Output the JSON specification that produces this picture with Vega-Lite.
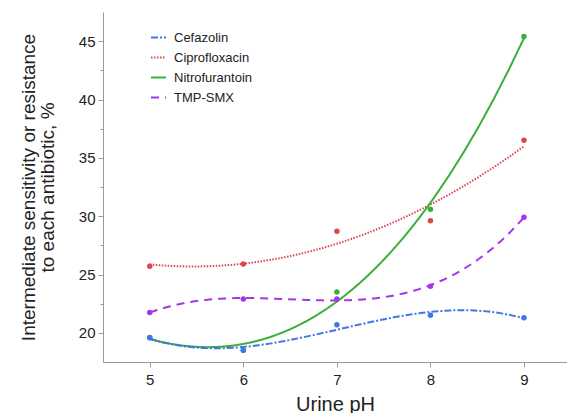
{
  "$schema": "https://vega.github.io/schema/vega-lite/v6.json",
  "width": 464,
  "height": 350,
  "autosize": {"type": "none"},
  "padding": {"left": 103, "top": 12, "right": 0, "bottom": 51},
  "background": "white",
  "config": {
    "view": {"stroke": null},
    "font": "Liberation Sans",
    "axis": {"grid": false, "domainColor": "#9a9a9a", "tickColor": "#9a9a9a", "labelColor": "#222222", "titleColor": "#222222", "titleFontWeight": "normal", "labelFontSize": 15, "tickSize": 5}
  },
  "data": {
    "values": [
      {"drug": "Nitrofurantoin", "pH": 5, "value": 19.6},
      {"drug": "Nitrofurantoin", "pH": 6, "value": 18.5},
      {"drug": "Nitrofurantoin", "pH": 7, "value": 23.5},
      {"drug": "Nitrofurantoin", "pH": 8, "value": 30.6},
      {"drug": "Nitrofurantoin", "pH": 9, "value": 45.4},
      {"drug": "Ciprofloxacin", "pH": 5, "value": 25.7},
      {"drug": "Ciprofloxacin", "pH": 6, "value": 25.9},
      {"drug": "Ciprofloxacin", "pH": 7, "value": 28.7},
      {"drug": "Ciprofloxacin", "pH": 8, "value": 29.6},
      {"drug": "Ciprofloxacin", "pH": 9, "value": 36.5},
      {"drug": "TMP-SMX", "pH": 5, "value": 21.75},
      {"drug": "TMP-SMX", "pH": 6, "value": 22.9},
      {"drug": "TMP-SMX", "pH": 7, "value": 22.9},
      {"drug": "TMP-SMX", "pH": 8, "value": 24.0},
      {"drug": "TMP-SMX", "pH": 9, "value": 29.9},
      {"drug": "Cefazolin", "pH": 5, "value": 19.57},
      {"drug": "Cefazolin", "pH": 6, "value": 18.5},
      {"drug": "Cefazolin", "pH": 7, "value": 20.7},
      {"drug": "Cefazolin", "pH": 8, "value": 21.5},
      {"drug": "Cefazolin", "pH": 9, "value": 21.3}
    ]
  },
  "encoding": {
    "x": {
      "field": "pH", "type": "quantitative",
      "scale": {"domain": [4.5, 9.46], "nice": false, "zero": false},
      "axis": {"values": [5, 6, 7, 8, 9], "title": "Urine pH", "titleFontSize": 20, "titlePadding": 7, "labelPadding": 5}
    },
    "y": {
      "field": "value", "type": "quantitative",
      "scale": {"domain": [17.5, 47.5], "nice": false, "zero": false},
      "axis": {
        "values": [20, 22.5, 25, 27.5, 30, 32.5, 35, 37.5, 40, 42.5, 45],
        "labelExpr": "datum.value % 5 === 0 ? datum.label : ''",
        "tickSize": {"expr": "datum.value % 5 === 0 ? 5 : 3"},
        "title": ["Intermediate sensitivity or resistance", "to each antibiotic, %"],
        "titleFontSize": 19,
        "titleLineHeight": 19,
        "titlePadding": 21,
        "labelPadding": 3
      }
    },
    "color": {
      "field": "drug", "type": "nominal",
      "scale": {"domain": ["Cefazolin", "Ciprofloxacin", "Nitrofurantoin", "TMP-SMX"], "range": ["#4276e6", "#de4552", "#3aaf3a", "#a236ec"]},
      "legend": {"orient": "none", "legendX": 47, "legendY": 17, "title": null, "symbolType": "stroke", "symbolSize": 225, "symbolStrokeWidth": 2, "labelFontSize": 13, "labelColor": "#222222", "rowPadding": 4, "labelOffset": 7, "padding": 0}
    }
  },
  "layer": [
    {
      "transform": [
        {"filter": "datum.drug === 'Ciprofloxacin'"},
        {"regression": "value", "on": "pH", "groupby": ["drug"], "method": "poly", "order": 2}
      ],
      "mark": {"type": "line", "strokeWidth": 2, "strokeCap": "butt"},
      "encoding": {
        "strokeDash": {
          "field": "drug", "type": "nominal",
          "scale": {"domain": ["Cefazolin", "Ciprofloxacin", "Nitrofurantoin", "TMP-SMX"], "range": [[7, 2, 2, 2], [1.5, 1.5], [1, 0], [8, 6]]},
          "legend": {"orient": "none", "legendX": 47, "legendY": 17, "title": null, "symbolType": "stroke", "symbolSize": 225, "symbolStrokeWidth": 2, "labelFontSize": 13, "labelColor": "#222222", "rowPadding": 4, "labelOffset": 7, "padding": 0}
        }
      }
    },
    {
      "transform": [
        {"filter": "datum.drug !== 'Ciprofloxacin'"},
        {"regression": "value", "on": "pH", "groupby": ["drug"], "method": "poly", "order": 3}
      ],
      "mark": {"type": "line", "strokeWidth": 2, "strokeCap": "butt"},
      "encoding": {
        "strokeDash": {"field": "drug", "type": "nominal"}
      }
    },
    {
      "mark": {"type": "point", "filled": true, "size": 30, "opacity": 1}
    }
  ]
}
